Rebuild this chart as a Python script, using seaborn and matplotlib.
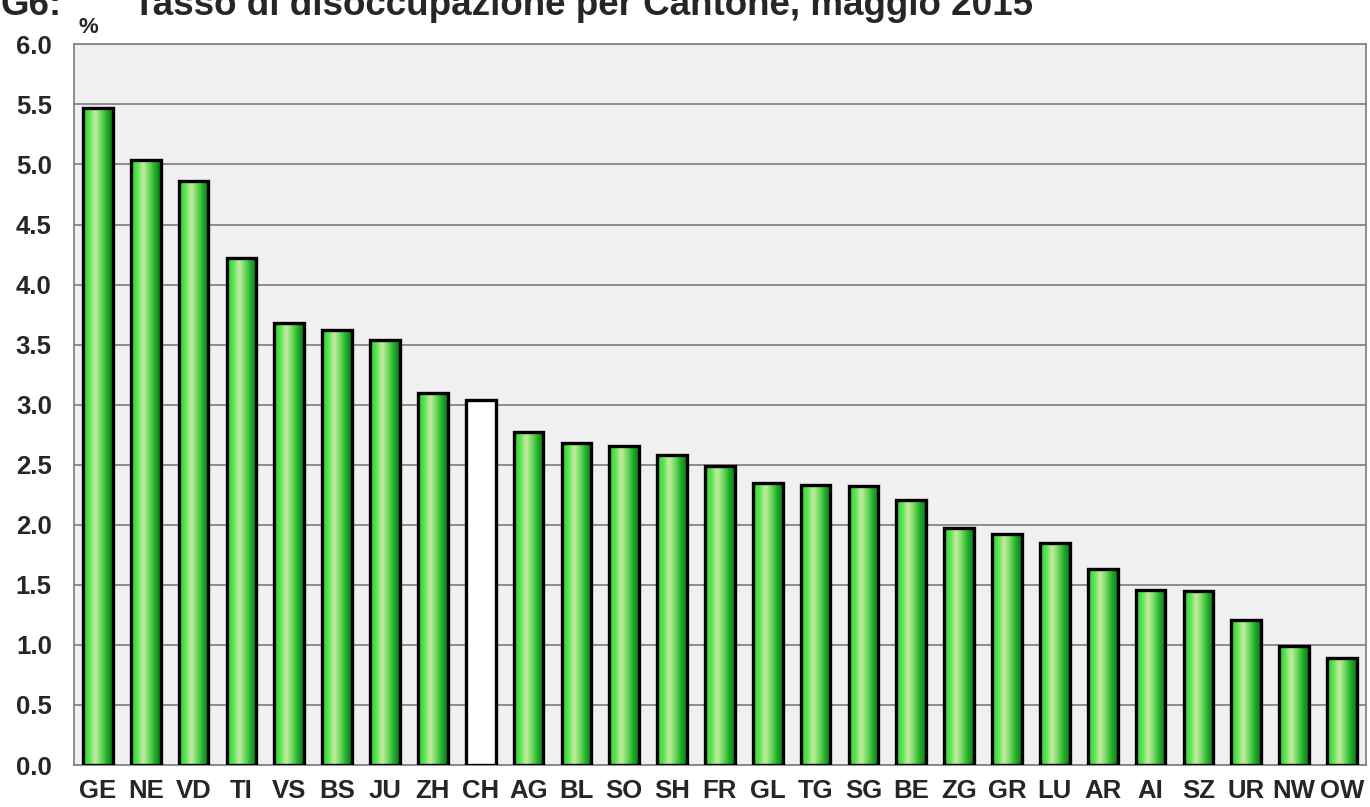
import numpy as np
import pandas as pd
import seaborn as sns
import matplotlib.pyplot as plt
from matplotlib.colors import LinearSegmentedColormap

cantons = ["GE", "NE", "VD", "TI", "VS", "BS", "JU", "ZH", "CH", "AG", "BL", "SO", "SH", "FR",
           "GL", "TG", "SG", "BE", "ZG", "GR", "LU", "AR", "AI", "SZ", "UR", "NW", "OW"]
rates = [5.47, 5.04, 4.86, 4.22, 3.68, 3.62, 3.54, 3.10, 3.04, 2.77, 2.68, 2.66, 2.58, 2.49,
         2.35, 2.33, 2.32, 2.21, 1.97, 1.92, 1.85, 1.63, 1.46, 1.45, 1.21, 0.99, 0.89]
yticks = [0.0, 0.5, 1.0, 1.5, 2.0, 2.5, 3.0, 3.5, 4.0, 4.5, 5.0, 5.5, 6.0]

df = pd.DataFrame({"canton": cantons, "rate": rates})

sns.set_style("white")
plt.rcParams["font.family"] = ["Liberation Sans", "DejaVu Sans"]

fig = plt.figure(figsize=(13.7, 8.07), dpi=100)
ax = fig.add_axes([0.054, 0.052, 0.943, 0.893])
ax.set_facecolor("#f0f0f0")

sns.barplot(data=df, x="canton", y="rate", ax=ax, width=0.62, color="#33cc33",
            edgecolor="black", linewidth=2.4, zorder=3)

# green cylinder-like gradient for each bar, white for CH
green = LinearSegmentedColormap.from_list(
    "g", ["#28d428", "#55e450", "#c6eda0", "#74da62", "#20b02a", "#0a7816"])
grad = np.linspace(0, 1, 64).reshape(1, -1)
for name, patch in zip(cantons, ax.patches):
    x0, y0 = patch.get_x(), patch.get_y()
    w, h = patch.get_width(), patch.get_height()
    if name == "CH":
        patch.set_facecolor("white")
        continue
    im = ax.imshow(grad, cmap=green, aspect="auto", extent=[x0, x0 + w, y0, y0 + h],
                   zorder=3.5, interpolation="bicubic")
    im.set_clip_path(patch)
    patch.set_facecolor("none")
    patch.set_zorder(4)

ax.set_xlim(-0.5, len(cantons) - 0.5)
ax.set_ylim(0, 6)
ax.set_yticks(yticks)
ax.set_yticklabels([f"{v:.1f}" for v in yticks])
ax.yaxis.grid(True, color="#858585", linewidth=1.3, zorder=0)
ax.set_axisbelow(True)
ax.tick_params(axis="y", length=0, labelsize=18.5, pad=16)
ax.tick_params(axis="x", length=0, labelsize=18.5, pad=10)
for lab in ax.get_xticklabels() + ax.get_yticklabels():
    lab.set_fontweight("bold")
ax.set_xlabel("")
ax.set_ylabel("")
for s in ax.spines.values():
    s.set_color("#858585")
    s.set_linewidth(1.3)

fig.text(0.057, 0.959, "%", fontsize=16, fontweight="bold", ha="left", va="baseline")
fig.text(0.0, 0.981, "G6:", fontsize=26.5, fontweight="bold", ha="left", va="baseline")
fig.text(0.097, 0.981, "Tasso di disoccupazione per Cantone, maggio 2015", fontsize=26.5,
         fontweight="bold", ha="left", va="baseline")

fig.savefig("out.png", dpi=100)
